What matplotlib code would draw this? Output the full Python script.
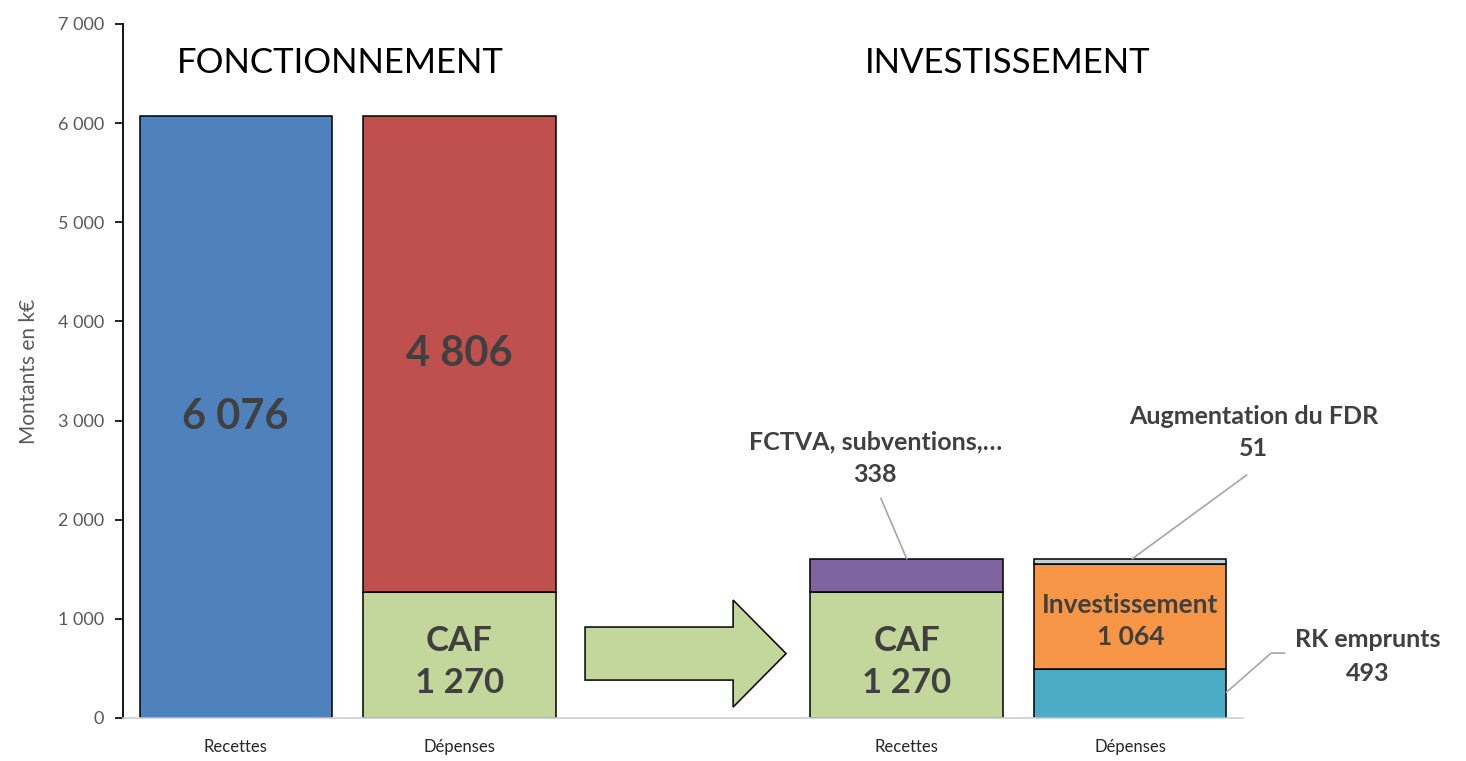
import matplotlib
matplotlib.use("Agg")
import matplotlib.pyplot as plt
from matplotlib.patches import FancyArrow
from matplotlib.ticker import FuncFormatter

plt.rcParams['font.family'] = ['Lato', 'DejaVu Sans']

# ---- data ----
positions = [0, 1, 3, 4]
tick_labels = ["Recettes", "Dépenses", "Recettes", "Dépenses"]

fonct_recettes = 6076
fonct_caf = 1270
fonct_depenses = 4806

inv_caf = 1270
inv_fctva = 338

inv_rk = 493
inv_invest = 1064
inv_fdr = 51

section_titles = ["FONCTIONNEMENT", "INVESTISSEMENT"]

# ---- style ----
C_BLUE = "#4f81bd"
C_RED = "#c0504d"
C_GREEN = "#c3d69b"
C_PURPLE = "#8064a2"
C_ORANGE = "#f79646"
C_TEAL = "#4bacc6"
C_FDR = "#c2d0d8"
TXT = "#404040"
W = 0.86
EDGE = dict(edgecolor="black", linewidth=1.1)

fig = plt.figure(figsize=(14.66, 7.61), dpi=100)
ax = fig.add_axes([123 / 1466, 1 - 718 / 761, 1120 / 1466, (718 - 24) / 761])

# Fonctionnement
ax.bar(positions[0], fonct_recettes, W, color=C_BLUE, **EDGE)
ax.bar(positions[1], fonct_caf, W, color=C_GREEN, **EDGE)
ax.bar(positions[1], fonct_depenses, W, bottom=fonct_caf, color=C_RED, **EDGE)
# Investissement recettes
ax.bar(positions[2], inv_caf, W, color=C_GREEN, **EDGE)
ax.bar(positions[2], inv_fctva, W, bottom=inv_caf, color=C_PURPLE, **EDGE)
# Investissement dépenses
ax.bar(positions[3], inv_rk, W, color=C_TEAL, **EDGE)
ax.bar(positions[3], inv_invest, W, bottom=inv_rk, color=C_ORANGE, **EDGE)
ax.bar(positions[3], inv_fdr, W, bottom=inv_rk + inv_invest, color=C_FDR, **EDGE)

ax.set_xlim(-0.504, 4.504)
ax.set_ylim(0, 7000)
ax.set_yticks(range(0, 7001, 1000))
ax.yaxis.set_major_formatter(FuncFormatter(lambda v, p: f"{int(v):,}".replace(",", " ")))
ax.set_xticks(positions)
ax.set_xticklabels(tick_labels)

for s in ["top", "right"]:
    ax.spines[s].set_visible(False)
ax.spines["left"].set_color("black")
ax.spines["left"].set_linewidth(1.3)
ax.spines["bottom"].set_color("#d0d0d0")
ax.spines["bottom"].set_linewidth(1.2)
ax.tick_params(axis="y", direction="out", length=5.5, width=1.2, colors="black",
               labelcolor="#595959", labelsize=13, pad=8)
ax.tick_params(axis="x", length=0, labelsize=12, labelcolor="#262626", pad=15)
ax.set_ylabel("Montants en k€", fontsize=15, color="#595959", labelpad=14)

# Section titles
ax.text(0.466, 6607, section_titles[0], ha="center", va="center", fontsize=25, color="black")
ax.text(3.45, 6607, section_titles[1], ha="center", va="center", fontsize=25, color="black")

def fmt(v):
    return f"{v:,}".replace(",", " ")

# In-bar labels
ax.text(positions[0], fonct_recettes / 2, fmt(fonct_recettes), ha="center", va="center",
        fontsize=30, fontweight="bold", color=TXT)
ax.text(positions[1], fonct_caf + fonct_depenses / 2, fmt(fonct_depenses), ha="center", va="center",
        fontsize=30, fontweight="bold", color=TXT)
ax.text(positions[1], fonct_caf / 2 - 70, "CAF\n" + fmt(fonct_caf), ha="center", va="center",
        fontsize=25, fontweight="bold", color=TXT, linespacing=1.4)
ax.text(positions[2], inv_caf / 2 - 70, "CAF\n" + fmt(inv_caf), ha="center", va="center",
        fontsize=25, fontweight="bold", color=TXT, linespacing=1.4)
ax.text(positions[3], inv_rk + inv_invest / 2 - 45, "Investissement\n" + fmt(inv_invest),
        ha="center", va="center", fontsize=19, fontweight="bold", color=TXT, linespacing=1.4)

# Callout labels with leader lines
LEAD = dict(color="#a6a6a6", linewidth=1.2, clip_on=False)
ax.text(2.86, 2620, "FCTVA, subventions,…\n" + fmt(inv_fctva), ha="center", va="center",
        fontsize=18, fontweight="bold", color=TXT, linespacing=1.5)
ax.plot([positions[2], 2.885], [inv_caf + inv_fctva, 2215], **LEAD)

ax.text(4.55, 2880, "Augmentation du FDR\n" + fmt(inv_fdr), ha="center", va="center",
        fontsize=18, fontweight="bold", color=TXT, linespacing=1.5)
ax.plot([4.01, 4.52], [inv_rk + inv_invest + inv_fdr, 2450], **LEAD)

ax.text(5.06, 620, "RK emprunts\n" + fmt(inv_rk), ha="center", va="center",
        fontsize=18, fontweight="bold", color=TXT, linespacing=1.6)
ax.plot([4.43, 4.63, 4.69], [260, 655, 655], **LEAD)

# Flow arrow from CAF (fonctionnement) to investissement
arrow = FancyArrow(1.562, 650, 0.899, 0, width=535, head_width=1080, head_length=0.237,
                   length_includes_head=True, facecolor=C_GREEN, edgecolor="black",
                   linewidth=1.1, clip_on=False)
ax.add_patch(arrow)

fig.savefig("out.png", dpi=100)
